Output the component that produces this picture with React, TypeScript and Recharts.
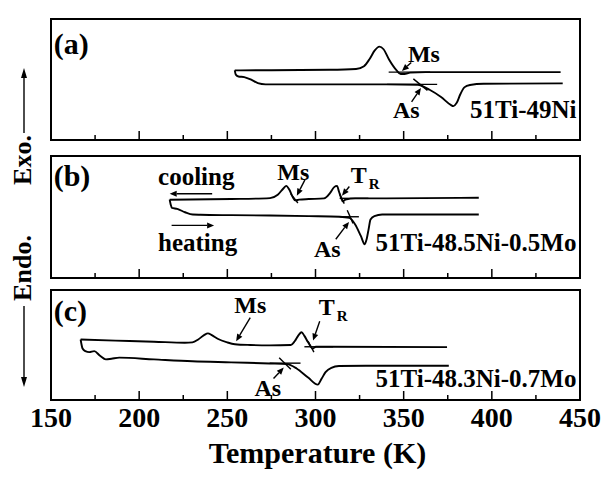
import React from 'react';
import { LineChart, Line, XAxis, YAxis, ReferenceLine, ReferenceDot, ReferenceArea } from 'recharts';

type Pt = [number, number];
type Seg = [Pt, Pt];
type Ann = { text: string; at: Pt; anchor: 'start' | 'middle' | 'end'; kind: string };

const FONT = '"Liberation Serif", "Times New Roman", serif';

const xTicks = [150, 175, 200, 225, 250, 275, 300, 325, 350, 375, 400, 425, 450];
const xTickLabels: Record<number, string> = { 150: '150', 200: '200', 250: '250', 300: '300', 350: '350', 400: '400', 450: '450' };

// ---------- Panel (a) 51Ti-49Ni ----------
const coolingA: Pt[] = [
  [254.2, 57.5], [275, 57.7], [308, 58.0], [323, 58.7], [327.5, 61.0], [330.7, 67.0],
  [333.6, 74.0], [336.2, 77.2], [338.6, 75.0], [341.7, 66.5], [346, 57.5], [348.3, 54.5],
  [350.4, 54.5], [353.7, 55.7], [362.5, 56.1], [439, 56.1],
];
const heatingA: Pt[] = [
  [254.2, 57.5], [254.8, 54.0], [256.3, 52.5], [259.6, 52.0], [264, 49.5], [267.3, 47.0],
  [271.7, 46.0], [340, 46.0], [358, 45.7], [364.7, 41.5], [371.2, 35.5], [376.7, 29.0],
  [378.2, 28.0], [380, 30.5], [382.2, 38.0], [384.4, 43.5], [387.6, 45.5], [395.3, 46.5], [440.2, 46.8],
];
const tangentsA: Seg[] = [
  [[341.5, 56.1], [365, 56.1]],
  [[340.6, 46.0], [369, 46.0]],
  [[355.5, 50.5], [363.5, 41.0]],
];
const arrowsA: Seg[] = [
  [[354.3, 64], [349, 57]],
  [[354.5, 31.5], [359.8, 43]],
];
const annA: Ann[] = [
  { text: '(a)', at: [151.5, 80], anchor: 'start', kind: 'panel' },
  { text: 'Ms', at: [361.5, 71], anchor: 'middle', kind: 'mark' },
  { text: 'As', at: [351.5, 25.5], anchor: 'middle', kind: 'mark' },
  { text: '51Ti-49Ni', at: [448, 25.5], anchor: 'end', kind: 'name' },
];

// ---------- Panel (b) 51Ti-48.5Ni-0.5Mo ----------
const coolingB: Pt[] = [
  [217.3, 64.2], [252.3, 64.7], [274.2, 65.5], [278.6, 68.2], [281.9, 73.6], [283.4, 75.5],
  [285.2, 72.3], [286.9, 66.9], [288.5, 63.7], [290.7, 64.2], [296.2, 64.7], [304.9, 65.3],
  [308.2, 69.6], [310.6, 74.5], [312.2, 75.5], [313.3, 70.9], [314.6, 65.5], [315.4, 62.8],
  [317, 64.2], [322.5, 65.3], [340, 65.3], [392.6, 65.8],
];
const heatingB: Pt[] = [
  [217.3, 64.2], [217.9, 60.1], [218.6, 57.4], [221.6, 56.6], [226, 53.9], [230.4, 52],
  [234.8, 51.8], [252.3, 51.5], [274.2, 51.2], [296.2, 50.7], [313.7, 50.2], [319.2, 49.3],
  [322.5, 43.9], [325.7, 34.5], [327.9, 27.7], [329, 31.8], [330.1, 39.9], [331.2, 48],
  [333.4, 50.7], [337.8, 52], [361.9, 52], [392.6, 52],
];
const tangentsB: Seg[] = [
  [[286, 69], [290, 61.5]],
  [[313.6, 69], [316.3, 61]],
  [[313.7, 65.3], [330, 65.3]],
  [[313.7, 50.2], [324.6, 50.2]],
  [[318, 55.5], [321.3, 44.8]],
];
const arrowsB: Seg[] = [
  [[294, 80.4], [289.4, 67.5]],
  [[319.2, 75], [315, 67.5]],
  [[311.5, 31.8], [319, 46]],
  [[241.4, 69], [217.3, 69]],
  [[218.4, 43.1], [242.5, 43.1]],
];
const annB: Ann[] = [
  { text: '(b)', at: [151.5, 84.4], anchor: 'start', kind: 'panel' },
  { text: 'cooling', at: [210.7, 83.1], anchor: 'start', kind: 'name' },
  { text: 'heating', at: [210.7, 29.1], anchor: 'start', kind: 'name' },
  { text: 'Ms', at: [287.4, 87.1], anchor: 'middle', kind: 'mark' },
  { text: 'T|R', at: [320, 84.4], anchor: 'start', kind: 'sub' },
  { text: 'As', at: [306.7, 23.7], anchor: 'middle', kind: 'mark' },
  { text: '51Ti-48.5Ni-0.5Mo', at: [448, 29.6], anchor: 'end', kind: 'name' },
];

// ---------- Panel (c) 51Ti-48.3Ni-0.7Mo ----------
const coolingC: Pt[] = [
  [166.8, 55], [186.5, 54], [208.4, 53], [225.9, 52], [230.2, 52.4], [233.5, 55], [236.8, 59],
  [239, 60.6], [241.2, 59], [244.5, 55.7], [249.9, 52.4], [254.3, 50.7], [263, 50], [274, 49.7],
  [286, 50], [288.2, 53.4], [290.4, 59], [292.1, 61.6], [293.7, 58.3], [295.8, 52.4],
  [298.5, 46.8], [300.2, 48.4], [306.8, 48.4], [374.6, 48.1],
];
const heatingC: Pt[] = [
  [166.8, 55], [167.9, 46.8], [169.5, 44.4], [171.7, 43.5], [174.5, 44.4], [177.8, 40.2],
  [181.1, 36.9], [184.3, 37.5], [188.7, 38.5], [208.4, 36.9], [230.2, 35.2], [252.1, 34.2],
  [274, 33.2], [283.8, 32.6], [289.3, 28.6], [295.8, 20.4], [301.3, 14.0], [303.5, 19.5],
  [305.7, 25.3], [309, 29.3], [313.3, 30.9], [328.6, 31.2], [375.6, 31.2],
];
const tangentsC: Seg[] = [
  [[295.8, 53.4], [299.1, 43.5]],
  [[293.7, 48.4], [310, 48.4]],
  [[274, 33.5], [291.5, 33.5]],
  [[279.4, 38.5], [286, 27.9]],
];
const arrowsC: Seg[] = [
  [[263, 74.8], [255, 53.5]],
  [[302.4, 71.5], [298.6, 54]],
  [[276.2, 19.5], [282, 29.5]],
];
const annC: Ann[] = [
  { text: '(c)', at: [151.5, 81], anchor: 'start', kind: 'panel' },
  { text: 'Ms', at: [263, 86.4], anchor: 'middle', kind: 'mark' },
  { text: 'T|R', at: [301.8, 84.5], anchor: 'start', kind: 'sub' },
  { text: 'As', at: [272.9, 11], anchor: 'middle', kind: 'mark' },
  { text: '51Ti-48.3Ni-0.7Mo', at: [448, 19.5], anchor: 'end', kind: 'name' },
];

const toData = (pts: Pt[]) => pts.map(([x, y]) => ({ x, y }));

const SIZES: Record<string, number> = { panel: 30, mark: 24, name: 25, sub: 24 };

const Arrow = (p: any) => {
  const { x1, y1, x2, y2 } = p;
  const dx = x2 - x1;
  const dy = y2 - y1;
  const len = Math.hypot(dx, dy) || 1;
  const ux = dx / len;
  const uy = dy / len;
  const hl = 7;
  const hw = 3;
  const bx = x2 - ux * hl;
  const by = y2 - uy * hl;
  return (
    <g>
      <line x1={x1} y1={y1} x2={bx} y2={by} stroke="#000" strokeWidth={1.4} />
      <polygon points={`${x2},${y2} ${bx - uy * hw},${by + ux * hw} ${bx + uy * hw},${by - ux * hw}`} fill="#000" />
    </g>
  );
};

const makeText = (a: Ann) => (p: any) => {
  const size = SIZES[a.kind];
  if (a.kind === 'sub') {
    const [main, sub] = a.text.split('|');
    return (
      <text x={p.cx} y={p.cy} dy="0.35em" textAnchor={a.anchor} fontFamily={FONT} fontWeight="bold" fontSize={size} fill="#000">
        <tspan>{main}</tspan>
        <tspan fontSize={15} dx={2} dy={6}>{sub}</tspan>
      </text>
    );
  }
  return (
    <text x={p.cx} y={p.cy} dy="0.35em" textAnchor={a.anchor} fontFamily={FONT} fontWeight="bold" fontSize={size} fill="#000">
      {a.text}
    </text>
  );
};

const makeTick = (showLabel: boolean) => (p: any) => {
  const { x, y, payload } = p;
  const v = payload.value as number;
  const label = xTickLabels[v];
  const major = label !== undefined;
  return (
    <g>
      <line x1={x} x2={x} y1={y} y2={y - (major ? 9 : 5)} stroke="#000" strokeWidth={1.5} />
      {showLabel && major && (
        <text x={x} y={y + 27} textAnchor="middle" fontFamily={FONT} fontWeight="bold" fontSize={28} fill="#000">
          {label}
        </text>
      )}
    </g>
  );
};

const titleLabel = (props: any) => {
  const vb = props && props.viewBox && props.viewBox.width ? props.viewBox : { x: 51, y: 400, width: 529, height: 78 };
  return (
    <text x={vb.x + vb.width / 2 + 2} y={vb.y + 63} textAnchor="middle" fontFamily={FONT} fontWeight="bold" fontSize={30} fill="#000">
      Temperature (K)
    </text>
  );
};

type PanelProps = {
  top: number;
  height: number;
  marginTop: number;
  axisHeight: number;
  cooling: Pt[];
  heating: Pt[];
  tangents: Seg[];
  arrows: Seg[];
  ann: Ann[];
  bottom?: boolean;
};

const Panel = ({ top, height, marginTop, axisHeight, cooling, heating, tangents, arrows, ann, bottom }: PanelProps) => (
  <div style={{ position: 'absolute', left: 0, top, width: 605, height }}>
    <LineChart width={605} height={height} margin={{ top: marginTop, right: 25, left: 51, bottom: 0 }}>
      <XAxis
        type="number"
        dataKey="x"
        domain={[150, 450]}
        ticks={xTicks}
        interval={0}
        allowDataOverflow
        height={axisHeight}
        tickSize={0}
        tickMargin={0}
        tickLine={false}
        axisLine={{ stroke: '#000', strokeWidth: 2 }}
        tick={makeTick(!!bottom)}
        label={bottom ? titleLabel : undefined}
      />
      <YAxis type="number" domain={[0, 100]} hide allowDataOverflow />
      <ReferenceArea x1={150} x2={450} y1={0} y2={100} fill="none" stroke="#000" strokeWidth={2} ifOverflow="visible" />
      <Line data={toData(cooling)} dataKey="y" type="monotone" stroke="#000" strokeWidth={1.9} dot={false} isAnimationActive={false} />
      <Line data={toData(heating)} dataKey="y" type="monotone" stroke="#000" strokeWidth={1.9} dot={false} isAnimationActive={false} />
      {tangents.map((s, i) => (
        <ReferenceLine
          key={`t${i}`}
          segment={[{ x: s[0][0], y: s[0][1] }, { x: s[1][0], y: s[1][1] }]}
          stroke="#000"
          strokeWidth={1.4}
          ifOverflow="visible"
        />
      ))}
      {arrows.map((s, i) => (
        <ReferenceLine
          key={`a${i}`}
          segment={[{ x: s[0][0], y: s[0][1] }, { x: s[1][0], y: s[1][1] }]}
          stroke="#000"
          ifOverflow="visible"
          shape={Arrow}
        />
      ))}
      {ann.map((a, i) => (
        <ReferenceDot key={`l${i}`} x={a.at[0]} y={a.at[1]} r={0} ifOverflow="visible" shape={makeText(a)} />
      ))}
    </LineChart>
  </div>
);

const YTitle = () => (
  <svg width={605} height={478} style={{ position: 'absolute', left: 0, top: 0, pointerEvents: 'none' }}>
    <line x1={24} y1={133} x2={24} y2={76} stroke="#000" strokeWidth={1.4} />
    <polygon points="24,68 21,78 27,78" fill="#000" />
    <text transform="translate(31,160) rotate(-90)" textAnchor="middle" fontFamily={FONT} fontWeight="bold" fontSize={26} fill="#000">
      Exo.
    </text>
    <text transform="translate(31,268) rotate(-90)" textAnchor="middle" fontFamily={FONT} fontWeight="bold" fontSize={26} fill="#000">
      Endo.
    </text>
    <line x1={24} y1={306} x2={24} y2={378} stroke="#000" strokeWidth={1.4} />
    <polygon points="24,387 21,377 27,377" fill="#000" />
  </svg>
);

export default function App() {
  return (
    <div style={{ position: 'absolute', left: 0, top: 0, width: 605, height: 478, background: '#fff' }}>
      <Panel top={0} height={150} marginTop={19} axisHeight={10} cooling={coolingA} heating={heatingA} tangents={tangentsA} arrows={arrowsA} ann={annA} />
      <Panel top={140} height={148} marginTop={16} axisHeight={10} cooling={coolingB} heating={heatingB} tangents={tangentsB} arrows={arrowsB} ann={annB} />
      <Panel top={280} height={198} marginTop={10} axisHeight={78} cooling={coolingC} heating={heatingC} tangents={tangentsC} arrows={arrowsC} ann={annC} bottom />
      <YTitle />
    </div>
  );
}
